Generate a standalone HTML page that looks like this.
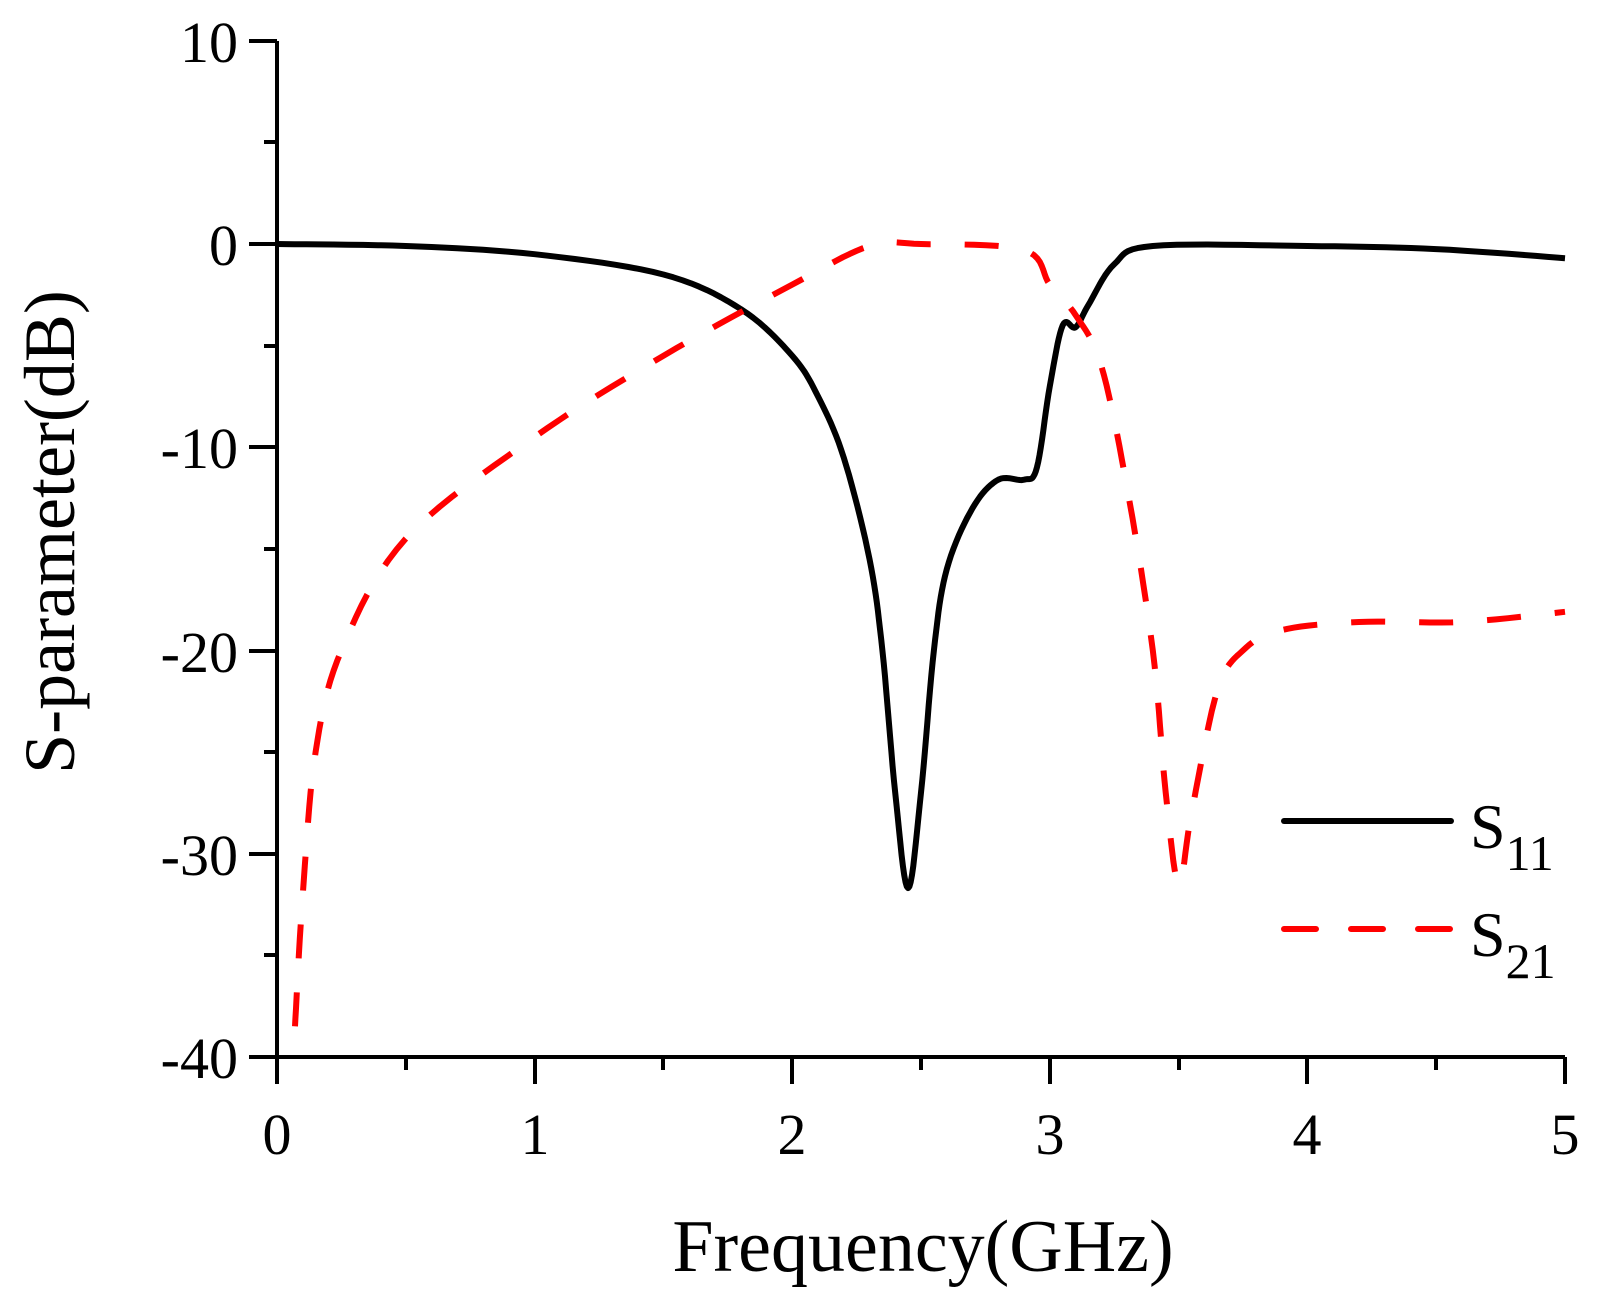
<!DOCTYPE html>
<html><head><style>body{margin:0;background:#fff}</style></head><body>
<svg width="1599" height="1301" xmlns="http://www.w3.org/2000/svg" font-family="Liberation Serif, serif">
<g stroke="#000" stroke-width="4" fill="none">
<path d="M277,41 V1057 H1565"/>
<path d="M277,41 h-28 M277,244 h-28 M277,447 h-28 M277,651 h-28 M277,854 h-28 M277,1057 h-28 M277,142 h-13 M277,346 h-13 M277,549 h-13 M277,752 h-13 M277,955 h-13"/>
<path d="M277,1057 v27 M535,1057 v27 M792,1057 v27 M1050,1057 v27 M1307,1057 v27 M1565,1057 v27 M406,1057 v13 M663,1057 v13 M921,1057 v13 M1179,1057 v13 M1436,1057 v13"/>
</g>
<g font-size="58" text-anchor="end">
<text x="238" y="62">10</text><text x="238" y="265">0</text><text x="238" y="468">-10</text><text x="238" y="672">-20</text><text x="238" y="875">-30</text><text x="238" y="1078">-40</text>
</g>
<g font-size="58" text-anchor="middle">
<text x="277" y="1154">0</text><text x="535" y="1154">1</text><text x="792" y="1154">2</text><text x="1050" y="1154">3</text><text x="1307" y="1154">4</text><text x="1565" y="1154">5</text>
</g>
<text x="923" y="1271" font-size="74" text-anchor="middle">Frequency(GHz)</text>
<text transform="translate(74,532) rotate(-90)" font-size="72" text-anchor="middle">S-parameter(dB)</text>
<polyline id="s11" fill="none" stroke="#000" stroke-width="6" stroke-linejoin="round" points="277,244 405.8,246 534.6,254.2 663.4,274.5 740.7,309 792.2,355.8 818,396.4 843.7,457.4 869.5,559 882.4,650.4 895.2,792.6 908.1,888.1 921,792.6 933.9,650.4 946.8,569.1 972.5,508.2 998.3,479.7 1024,479.7 1036.9,467.5 1049.8,386.2 1062.7,325.3 1075.6,327.3 1088.4,305 1114.2,264.3 1152.8,246 1307.4,246 1436.2,249.1 1565,258.2"/>
<polyline id="s21" fill="none" stroke="#f00" stroke-width="6" stroke-dasharray="34,34" stroke-linejoin="round" points="295,1026.3 302.8,894.2 315.6,752 341.4,650.4 405.8,538.6 534.6,437 663.4,355.8 792.2,284.6 869.5,246 921,244 1024,250.1 1049.8,284.6 1075.6,315.1 1101.3,365.9 1127.1,487.8 1152.8,650.4 1165.7,792.6 1178.6,884.1 1191.5,813 1217.2,691 1243,650.4 1281.6,630.1 1358.9,622 1461.9,622 1565,611.8"/>
<line x1="1284" y1="821" x2="1451" y2="821" stroke="#000" stroke-width="6" stroke-linecap="round"/>
<line x1="1284" y1="929" x2="1451" y2="929" stroke="#f00" stroke-width="6" stroke-linecap="round" stroke-dasharray="32,35"/>
<text x="1470" y="848" font-size="64">S<tspan font-size="50" dy="22">11</tspan></text>
<text x="1470" y="956" font-size="64">S<tspan font-size="50" dy="22">21</tspan></text>
</svg>
<script>
['s11','s21'].forEach(function(id){
 var el=document.getElementById(id);
 var p=el.getAttribute('points').trim().split(/\s+/).map(function(s){return s.split(',').map(Number);});
 var out=[];
 for(var i=0;i<p.length-1;i++){
  var p0=p[i-1]||p[i],p1=p[i],p2=p[i+1],p3=p[i+2]||p[i+1];
  for(var t=0;t<1;t+=0.1){
   var t2=t*t,t3=t2*t;
   var f=function(a,b,c,d){return 0.5*(2*b+(-a+c)*t+(2*a-5*b+4*c-d)*t2+(-a+3*b-3*c+d)*t3);};
   out.push(f(p0[0],p1[0],p2[0],p3[0]).toFixed(1)+','+f(p0[1],p1[1],p2[1],p3[1]).toFixed(1));
  }
 }
 out.push(p[p.length-1].join(','));
 el.setAttribute('points',out.join(' '));
});
</script>
</body></html>
